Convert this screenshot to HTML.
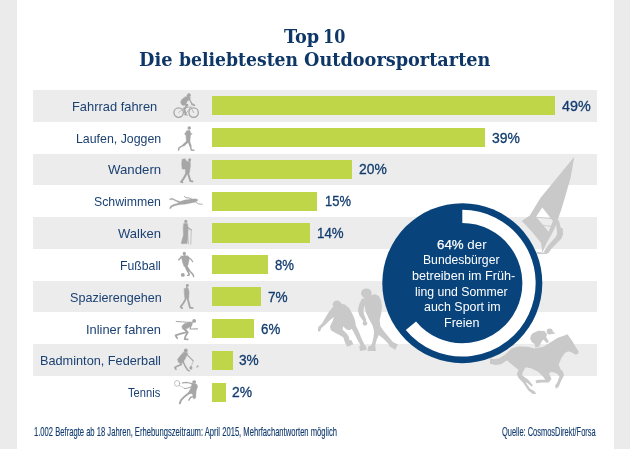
<!DOCTYPE html>
<html lang="de">
<head>
<meta charset="utf-8">
<title>Top 10 – Die beliebtesten Outdoorsportarten</title>
<style>
html,body{margin:0;padding:0;}
body{width:630px;height:449px;overflow:hidden;background:#ebebeb;position:relative;font-family:"Liberation Sans", sans-serif;color:#123c6e;}
#card{position:absolute;left:17px;top:0;width:596.5px;height:449px;background:#fff;}
.row{position:absolute;left:33px;width:564px;height:31.5px;background:#ececec;}
.bar{position:absolute;left:211.5px;height:19.1px;background:#bed647;}
.t,.h,.l,.p,.c,.f{position:absolute;white-space:nowrap;transform-origin:0 0;margin:0;}
.h{color:#0e3767;font-family:"DejaVu Serif Condensed", "DejaVu Serif", serif;font-weight:bold;font-size:19.2px;line-height:24px;font-stretch:condensed;}
.l{font-size:13px;line-height:16.25px;color:#1b4173;}
h1,p{margin:0;font-size:inherit;font-weight:inherit;}
.p{font-size:14px;line-height:17.5px;-webkit-text-stroke:0.3px #123c6e;}
.c{font-size:13.2px;line-height:16.5px;color:#fff;}
.c b{font-weight:normal;-webkit-text-stroke:0.25px #fff;}
.f{font-size:13px;line-height:16.25px;-webkit-text-stroke:0.15px #123c6e;}
svg{position:absolute;left:0;top:0;}
</style>
</head>
<body>
<div id="card"></div>
<div class="row" style="top:90.00px"></div>
<div class="row" style="top:153.58px"></div>
<div class="row" style="top:217.16px"></div>
<div class="row" style="top:280.74px"></div>
<div class="row" style="top:344.32px"></div>

<svg id="bg" width="630" height="449" viewBox="0 0 630 449">
<g fill="#c9c9c9" stroke="none">
<!-- windsurfer -->
<path fill-rule="evenodd" d="M574.3 156.7L570.6 177.8L564.8 198L561 210.5L557.9 219.2L555.4 226.7L551 235.4L546.1 244.1L542.3 252.8L541.1 242.9L533 232.9L525.5 224.8L521.7 221.1L529.8 215.5L540.4 198Z M542.3 207.4L536.1 216.7L548.6 231.7L552.9 221.1Z"/>
<path d="M536.7 217.3L552.3 218.6M542.3 225.2L551 226.4" stroke="#c9c9c9" stroke-width="0.9" fill="none"/>
<g transform="translate(518,198) scale(0.12472)">
<circle cx="345" cy="255" r="16"/>
<path d="M306 180L322 174L334 200L342 236L358 256L362 290L347 326L312 362L272 402L242 442L205 436L220 410L248 372L280 336L303 310L314 286L310 250L305 205Z"/>
<path d="M150 432L235 440L232 449L155 449Z"/>
</g>
<!-- skater 1: origin (316,285) scale 1/6.414 -->
<g transform="translate(316,285) scale(0.15591)">
<ellipse cx="135" cy="125" rx="28" ry="25"/>
<path d="M278 392L318 388L326 416L282 424Z"/>
<path d="M186 362L226 352L240 380L200 396Z"/>
<path d="M110 140L85 170L65 200L40 245L15 270L12 295L25 300L35 275L60 255L90 225L115 205L105 235L90 265L95 290L120 305L150 320L175 335L185 365L195 385L215 392L235 375L215 355L210 330L195 310L170 285L175 265L195 285L215 290L230 280L245 310L265 350L285 385L280 410L300 420L320 410L315 390L295 350L275 300L255 260L250 225L235 190L215 150L185 125L160 120Z"/>
</g>
<!-- skater 2: origin (350,285) -->
<g transform="translate(350,285) scale(0.15591)">
<ellipse cx="105" cy="53" rx="34" ry="31"/>
<path d="M118 392L162 392L166 424L112 424Z"/>
<path d="M262 362L306 380L292 416L250 392Z"/>
<circle cx="96" cy="246" r="15"/>
<path d="M75 90L60 120L50 160L60 195L80 225L95 245L105 225L90 190L85 160L95 130L100 170L120 215L145 260L155 300L150 340L140 380L125 400L120 420L160 420L160 395L170 355L185 320L215 345L240 370L260 395L285 410L305 385L275 365L250 335L220 300L195 265L190 225L200 185L205 140L200 100L185 70L160 60L135 65Z"/>
</g>
<!-- horse: origin (490,320) scale 1/5.61 -->
<g transform="translate(490,320) scale(0.17825)">
<path d="M0 214L22 220L52 214L82 196L95 185L120 160L160 148L210 150L250 160L300 150L340 125L380 100L410 90L435 80L445 95L460 115L480 150L497 175L495 190L480 195L465 185L440 175L420 185L400 215L385 250L395 275L410 290L415 310L400 340L385 375L370 385L365 370L380 345L390 315L375 300L345 290L330 300L345 330L330 350L290 350L260 355L255 340L275 335L310 335L300 320L270 290L230 270L200 265L185 290L180 310L215 335L240 365L235 375L205 350L200 350L225 385L250 400L260 415L240 415L215 395L185 350L160 325L150 305L160 280L135 260L105 235L96 226L62 248L30 253L0 246Z"/>
<circle cx="335" cy="65" r="17"/>
<path d="M345 62L368 74L350 80Z"/>
<path d="M240 75L270 60L305 62L320 80L315 95L330 120L320 130L300 110L290 120L275 150L255 155L250 135L235 125L225 105L230 85Z"/>
</g>
</g>

<circle cx="462.3" cy="283.15" r="80" fill="#08437c"/>
<path d="M462.3 216.45A66.7 66.7 0 1 1 410.91 325.67" fill="none" stroke="#fff" stroke-width="13.3"/>
</svg>
<div class="bar" style="top:96.15px;width:343.49px"></div>
<div class="bar" style="top:127.98px;width:273.39px"></div>
<div class="bar" style="top:159.81px;width:140.20px"></div>
<div class="bar" style="top:191.64px;width:105.15px"></div>
<div class="bar" style="top:223.47px;width:98.14px"></div>
<div class="bar" style="top:255.30px;width:56.08px"></div>
<div class="bar" style="top:287.13px;width:49.07px"></div>
<div class="bar" style="top:318.96px;width:42.06px"></div>
<div class="bar" style="top:350.79px;width:21.03px"></div>
<div class="bar" style="top:382.62px;width:14.02px"></div>

<svg id="icons" width="630" height="449" viewBox="0 0 630 449">
<g fill="#a6a6a6" stroke="#a6a6a6" stroke-linecap="round" stroke-linejoin="round">
<!-- 1 cyclist -->
<g transform="translate(165,88) scale(0.07576)">
<circle cx="180" cy="325" r="62" fill="none" stroke-width="17"/>
<circle cx="378" cy="325" r="62" fill="none" stroke-width="17"/>
<path d="M180 325L250 262L340 250L378 325M250 262L275 340L340 250" fill="none" stroke-width="10"/>
<circle cx="315" cy="95" r="25" stroke="none"/>
<path d="M292 108L338 128L326 152L292 176L274 214L234 232L206 196L218 156L250 128Z" stroke-width="6"/>
<path d="M318 140L352 205L385 222" fill="none" stroke-width="17"/>
<path d="M352 220L392 232" fill="none" stroke-width="14"/>
<path d="M232 212L296 224L254 282L272 348" fill="none" stroke-width="26"/>
<path d="M258 352L295 358" fill="none" stroke-width="13"/>
</g>
<!-- 2 runner -->
<g transform="translate(165,120) scale(0.07576)">
<circle cx="320" cy="105" r="23" stroke="none"/>
<path d="M294 138L330 138L338 185L328 288L284 288L274 185Z" stroke-width="6"/>
<path d="M290 150L262 186L290 194" fill="none" stroke-width="14"/>
<path d="M322 150L336 190L354 182" fill="none" stroke-width="14"/>
<path d="M296 285L246 332" fill="none" stroke-width="30"/>
<path d="M246 332L188 364L178 396" fill="none" stroke-width="20"/>
<path d="M315 285L336 342" fill="none" stroke-width="28"/>
<path d="M336 342L346 395L380 400" fill="none" stroke-width="20"/>
</g>
<!-- 3 hiker -->
<g transform="translate(165,152) scale(0.07576)">
<path d="M228 96L266 90L288 125L332 118L336 180L322 275L272 275L268 226L226 226L220 150Z" stroke-width="6"/>
<circle cx="325" cy="102" r="20" stroke="none"/>
<path d="M290 272L252 340L218 392" fill="none" stroke-width="28"/>
<path d="M203 392L234 404" fill="none" stroke-width="15"/>
<path d="M302 272L322 340L336 384L362 388" fill="none" stroke-width="26"/>
</g>
<!-- 4 swimmer -->
<g transform="translate(165,184) scale(0.07576)">
<path d="M62 196L100 188L150 215L200 232L260 212L330 200L392 196L428 200L432 222L410 232L395 240L330 255L260 268L200 272L140 285L95 300L72 328L60 322L70 295L110 272L170 255L185 248L140 225L100 205L65 208Z" stroke-width="4"/>
<path d="M395 230L440 262L490 268" fill="none" stroke-width="12"/>
<path d="M360 205L328 186L278 180L256 166" fill="none" stroke-width="13"/>
</g>
<!-- 5 nordic walker -->
<g transform="translate(165,216) scale(0.07576)">
<circle cx="275" cy="72" r="21" stroke="none"/>
<path d="M248 100L298 100L306 180L300 280L292 364L214 366L224 320L244 250L240 160Z" stroke-width="6"/>
<path d="M300 150L345 185" fill="none" stroke-width="14"/>
<path d="M347 180L340 372" fill="none" stroke-width="8"/>
<path d="M302 250L312 372" fill="none" stroke-width="7"/>
</g>
<!-- 6 footballer -->
<g transform="translate(165,248) scale(0.07576)">
<circle cx="255" cy="72" r="21" stroke="none"/>
<path d="M255 85L258 108" fill="none" stroke-width="22"/>
<path d="M212 105L300 103L322 140L302 232L250 242L233 190L223 150Z" stroke-width="6"/>
<path d="M222 115L182 155" fill="none" stroke-width="20"/>
<path d="M300 115L345 150L365 182" fill="none" stroke-width="16"/>
<path d="M268 232L300 300" fill="none" stroke-width="30"/>
<path d="M300 300L320 352L300 362" fill="none" stroke-width="22"/>
<path d="M286 240L332 310L368 348L378 376" fill="none" stroke-width="20"/>
<circle cx="235" cy="355" r="26" stroke="none"/>
</g>
<!-- 7 walker -->
<g transform="translate(165,280) scale(0.07576)">
<circle cx="295" cy="72" r="19" stroke="none"/>
<path d="M290 88L286 112" fill="none" stroke-width="20"/>
<path d="M256 112L306 108L318 160L314 240L262 240L254 170Z" stroke-width="6"/>
<path d="M276 242L246 300L206 355L226 372" fill="none" stroke-width="24"/>
<path d="M298 242L316 310L330 365L365 370" fill="none" stroke-width="24"/>
</g>
<!-- 8 inline skater -->
<g transform="translate(165,312) scale(0.07576)">
<circle cx="385" cy="118" r="25" stroke="none"/>
<path d="M365 135L352 182L292 218L235 228L222 190L250 158L320 135Z" stroke-width="8"/>
<path d="M330 138L230 130L148 125" fill="none" stroke-width="13"/>
<path d="M345 175L330 225L430 222" fill="none" stroke-width="15"/>
<path d="M250 220L290 265L200 290L140 310L160 345" fill="none" stroke-width="24"/>
<path d="M262 225L300 270L270 320L260 358L300 362" fill="none" stroke-width="24"/>
</g>
<!-- 9 badminton -->
<g transform="translate(165,344) scale(0.07576)">
<circle cx="275" cy="85" r="25" stroke="none"/>
<path d="M250 105L302 120L262 200L232 252L175 237L168 200L200 160Z" stroke-width="8"/>
<path d="M290 140L340 190L372 222" fill="none" stroke-width="15"/>
<path d="M370 225L350 290" fill="none" stroke-width="7"/>
<ellipse cx="342" cy="315" rx="19" ry="26" stroke="none"/>
<path d="M190 235L215 270L160 295L130 310L145 335" fill="none" stroke-width="22"/>
<path d="M240 235L265 290L300 345L320 355" fill="none" stroke-width="20"/>
<path d="M415 305L435 280L440 300Z" stroke-width="5"/>
</g>
<!-- 10 tennis -->
<g transform="translate(165,376) scale(0.07576)">
<ellipse cx="160" cy="98" rx="35" ry="38" fill="none" stroke-width="9"/>
<path d="M190 125L260 165" fill="none" stroke-width="7"/>
<circle cx="385" cy="80" r="25" stroke="none"/>
<path d="M360 100L290 85L230 90" fill="none" stroke-width="15"/>
<path d="M350 140L300 160L255 165" fill="none" stroke-width="13"/>
<path d="M355 100L420 110L430 140L410 200L405 290L380 305L360 230L300 240L330 180L350 140Z" stroke-width="6"/>
<path d="M340 205L260 270L212 318L195 360" fill="none" stroke-width="25"/>
<path d="M395 272L340 280L315 320" fill="none" stroke-width="19"/>
</g>
</g>

</svg>
<h1><span class="h" style="left:283.60px;top:25.15px;transform:scaleX(1.0247)">Top</span> <span class="h" style="left:323.15px;top:25.15px;transform:scaleX(0.9268)">10</span><br><span class="h" style="left:138.90px;top:48.45px;transform:scaleX(1.0298)">Die</span> <span class="h" style="left:178.60px;top:48.45px;transform:scaleX(0.9972)">beliebtesten</span> <span class="h" style="left:303.80px;top:48.45px;transform:scaleX(1.0249)">Outdoorsportarten</span></h1>
<section id="labels">
<div class="l" style="left:72.31px;top:98.67px;transform:scaleX(0.9910)">Fahrrad fahren</div>
<div class="l" style="left:76.15px;top:130.52px;transform:scaleX(0.9502)">Laufen, Joggen</div>
<div class="l" style="left:108.20px;top:162.36px;transform:scaleX(1.0166)">Wandern</div>
<div class="l" style="left:94.40px;top:194.19px;transform:scaleX(0.9452)">Schwimmen</div>
<div class="l" style="left:118.40px;top:226.04px;transform:scaleX(1.0015)">Walken</div>
<div class="l" style="left:119.76px;top:257.88px;transform:scaleX(0.9421)">Fußball</div>
<div class="l" style="left:69.60px;top:289.71px;transform:scaleX(0.9687)">Spazierengehen</div>
<div class="l" style="left:86.31px;top:321.56px;transform:scaleX(0.9886)">Inliner fahren</div>
<div class="l" style="left:40.12px;top:353.40px;transform:scaleX(0.9781)">Badminton, Federball</div>
<div class="l" style="left:128.40px;top:385.24px;transform:scaleX(0.8588)">Tennis</div>
</section>
<section id="values">
<div class="p" style="left:561.70px;top:97.70px;transform:scaleX(1.0228)">49%</div>
<div class="p" style="left:491.90px;top:129.54px;transform:scaleX(0.9938)">39%</div>
<div class="p" style="left:358.80px;top:161.38px;transform:scaleX(0.9901)">20%</div>
<div class="p" style="left:324.67px;top:193.22px;transform:scaleX(0.9258)">15%</div>
<div class="p" style="left:317.25px;top:225.06px;transform:scaleX(0.9484)">14%</div>
<div class="p" style="left:275.10px;top:256.90px;transform:scaleX(0.9401)">8%</div>
<div class="p" style="left:267.60px;top:288.74px;transform:scaleX(0.9704)">7%</div>
<div class="p" style="left:261.00px;top:320.58px;transform:scaleX(0.9502)">6%</div>
<div class="p" style="left:239.10px;top:352.42px;transform:scaleX(0.9754)">3%</div>
<div class="p" style="left:232.40px;top:384.26px;transform:scaleX(0.9906)">2%</div>
</section>
<p id="fact"><span class="c" style="left:437.20px;top:236.90px;transform:scaleX(1.0095)"><b>64%</b> der</span> <span class="c" style="left:422.88px;top:252.40px;transform:scaleX(0.9229)">Bundesbürger</span> <span class="c" style="left:412.20px;top:268.00px;transform:scaleX(0.9586)">betreiben im Früh-</span> <span class="c" style="left:414.70px;top:283.60px;transform:scaleX(0.9283)">ling und Sommer</span> <span class="c" style="left:423.80px;top:299.20px;transform:scaleX(0.9413)">auch Sport im</span> <span class="c" style="left:444.35px;top:314.80px;transform:scaleX(0.9516)">Freien</span></p>
<footer>
<div class="f" style="left:34.40px;top:423.82px;transform:scaleX(0.5864)">1.002 Befragte ab 18 Jahren, Erhebungszeitraum: April 2015, Mehrfachantworten möglich</div>
<div class="f" style="left:501.90px;top:423.82px;transform:scaleX(0.5736)">Quelle: CosmosDirekt/Forsa</div>
</footer>
</body>
</html>
